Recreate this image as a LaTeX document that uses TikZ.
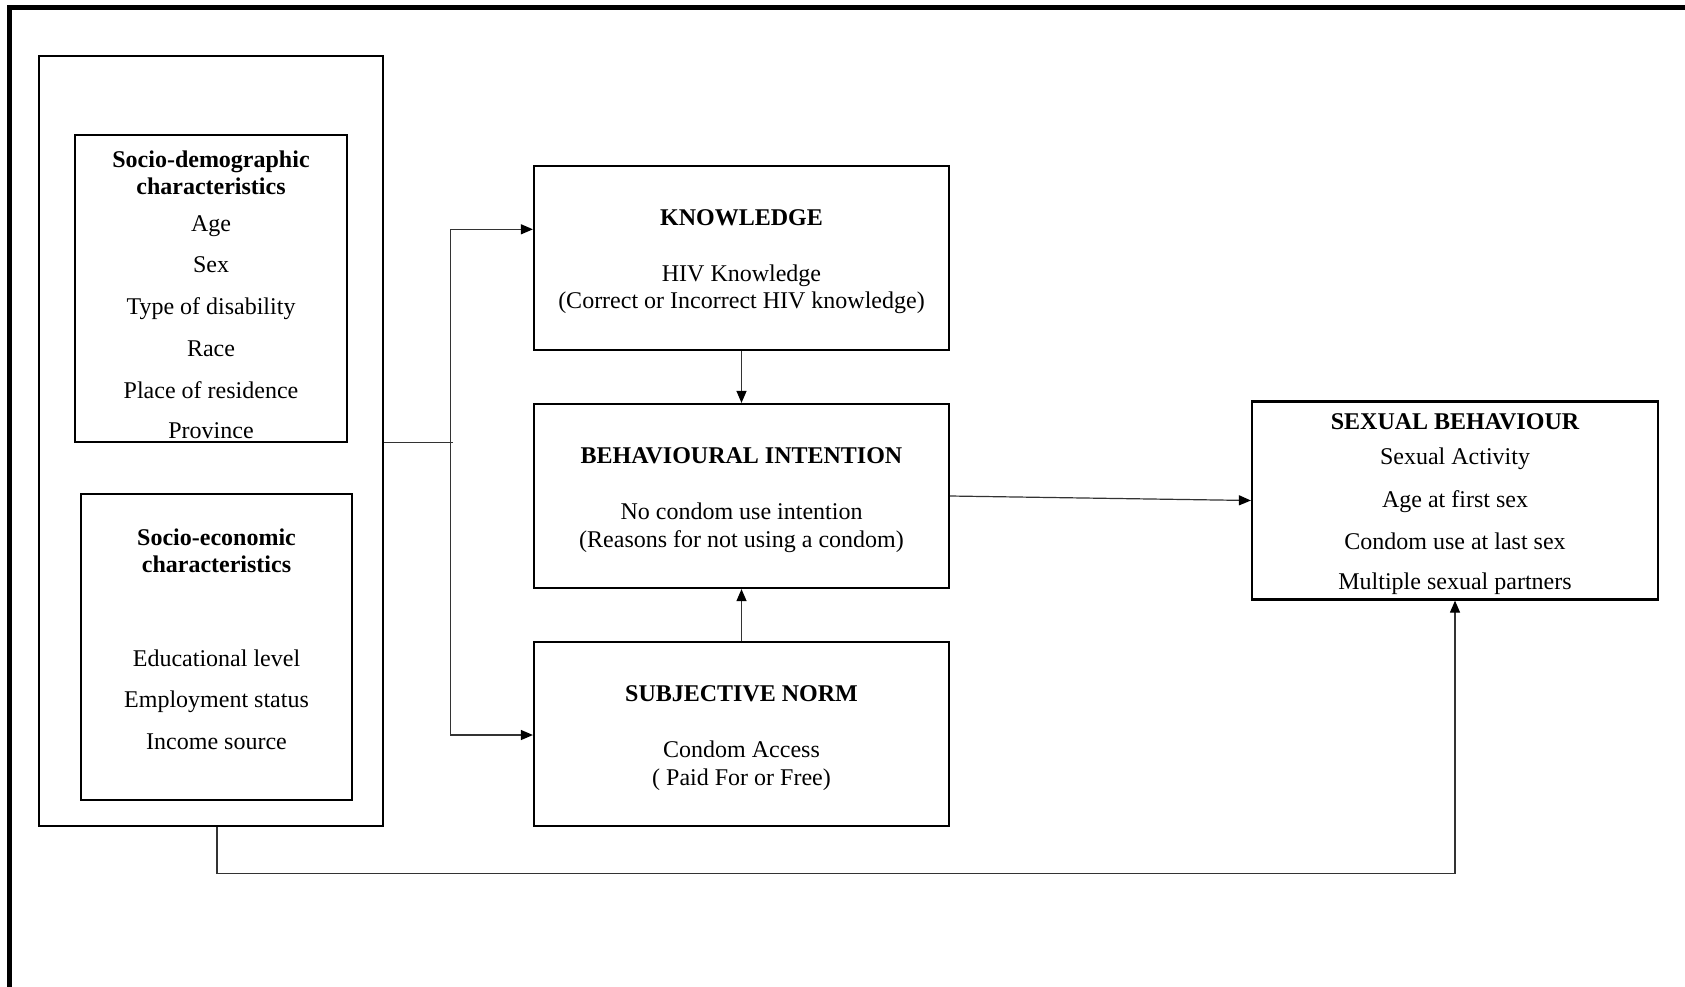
\documentclass[tikz,border=0pt]{standalone}
\usepackage{fontspec}
\setmainfont{Liberation Serif}
\usetikzlibrary{arrows.meta}
\begin{document}
\begin{tikzpicture}[x=0.5pt,y=-0.5pt,
  box/.style={draw=black,line width=1.1pt,inner sep=0pt,anchor=center},
  txt/.style={anchor=base,inner sep=0pt,yshift=-0.7pt,font=\fontsize{12pt}{14pt}\selectfont},
  hd/.style={txt,font=\fontsize{12pt}{14pt}\selectfont\bfseries},
  conn/.style={draw=black!80,line width=0.6pt},
  arr/.style={conn,-{Triangle[length=6pt,width=5pt,color=black]}}]
\useasboundingbox (0,0) rectangle (1685,986);
\clip (0,0) rectangle (1685,986);
% page frame (only top and left edges visible)
\draw[line width=2.6pt] (9.2,1100) -- (9.2,7.2) -- (1800,7.2);

% boxes
\node[box,minimum width=172pt,minimum height=385pt] (ctx) at (211,441) {};
\node[box,minimum width=136pt,minimum height=153.5pt] (demo) at (211,288.5) {};
\node[box,minimum width=135.5pt,minimum height=153pt] (econ) at (216.5,647) {};
\node[box,minimum width=207.5pt,minimum height=92pt] (know) at (741.5,258) {};
\node[box,minimum width=207.5pt,minimum height=92pt] (bi) at (741.5,496) {};
\node[box,minimum width=207.5pt,minimum height=92pt] (sn) at (741.5,733.7) {};
\node[box,minimum width=203pt,minimum height=99pt] (sb) at (1455,500.5) {};

% socio-demographic texts
\node[hd] (d1) at (211,165.7) {Socio-demographic};
\node[hd] (d2) at (211,192.7) {characteristics};
\node[txt] (d3) at (211,230) {Age};
\node[txt] (d4) at (211,270.7) {Sex};
\node[txt] (d5) at (211,313) {Type of disability};
\node[txt] (d6) at (211,355) {Race};
\node[txt] (d7) at (211,396.7) {Place of residence};
\node[txt] (d8) at (211,437.3) {Province};

% socio-economic texts
\node[hd] (e1) at (216.5,544) {Socio-economic};
\node[hd] (e2) at (216.5,571.4) {characteristics};
\node[txt] (e3) at (216.5,664.7) {Educational level};
\node[txt] (e4) at (216.5,706.4) {Employment status};
\node[txt] (e5) at (216.5,748) {Income source};

% knowledge
\node[hd] (k1) at (741.5,224) {KNOWLEDGE};
\node[txt] (k2) at (741.5,280) {HIV Knowledge};
\node[txt] (k3) at (741.5,307.3) {(Correct or Incorrect HIV knowledge)};

% behavioural intention
\node[hd] (b1) at (741.5,462) {BEHAVIOURAL INTENTION};
\node[txt] (b2) at (741.5,518.3) {No condom use intention};
\node[txt] (b3) at (741.5,546) {(Reasons for not using a condom)};

% subjective norm
\node[hd] (s1) at (741.5,700) {SUBJECTIVE NORM};
\node[txt] (s2) at (741.5,756) {Condom Access};
\node[txt] (s3) at (741.5,784) {( Paid For or Free)};

% sexual behaviour
\node[hd] (x1) at (1455,427.7) {SEXUAL BEHAVIOUR};
\node[txt] (x2) at (1455,463.3) {Sexual Activity};
\node[txt] (x3) at (1455,506) {Age at first sex};
\node[txt] (x4) at (1455,547.7) {Condom use at last sex};
\node[txt] (x5) at (1455,588.3) {Multiple sexual partners};

% connectors
\coordinate (br) at (450.3,442.3);
\coordinate (bt) at (450.3,229.3);
\coordinate (bb) at (450.3,735);
\draw[conn] (ctx.east |- br) -- ([xshift=1.4]br);
\draw[conn] (bt) -- (bb);
\draw[arr] (bt) -- (know.west |- bt);
\draw[arr] (bb) -- (sn.west |- bb);
\draw[arr] (know.south) -- (bi.north);
\draw[arr] (sn.north) -- (bi.south);
\draw[arr] (bi.east) -- (sb.west);
\coordinate (f1) at (217,873.7);
\coordinate (f2) at (1455,873.7);
\draw[arr] (ctx.south -| f1) -- (f1) -- (f2) -- (sb.south);
\end{tikzpicture}
\end{document}
